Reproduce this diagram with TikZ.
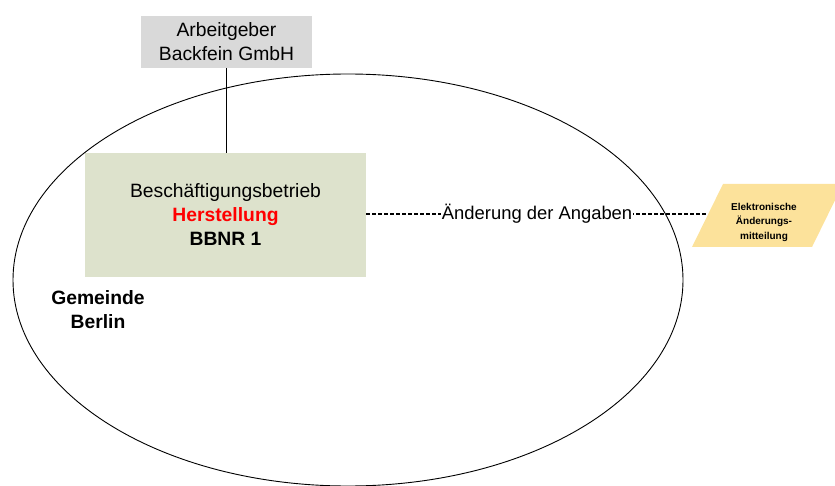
\documentclass[tikz,border=0pt]{standalone}
\usepackage{fontspec}
\setmainfont{Liberation Sans}
\usepackage{xcolor}
\usepackage{tikz}
\usetikzlibrary{positioning}

\definecolor{agGray}{RGB}{217,217,217}
\definecolor{btGreen}{RGB}{221,226,204}
\definecolor{msgYellow}{RGB}{252,226,155}
\definecolor{hsRed}{RGB}{255,0,0}

\begin{document}
\begin{tikzpicture}[x=1pt,y=1pt,
    big/.style={font=\fontsize{19.3}{24}\selectfont},
    box/.style={big,align=center,inner sep=0pt}]
  \useasboundingbox (0,0) rectangle (835,-486);

  % Gemeinde (Ellipse)
  \draw[line width=0.9pt] (348,-280) ellipse [x radius=335, y radius=206];
  \node[box,font=\fontsize{19.3}{24}\selectfont\bfseries] (gemeinde) at (98,-310) {Gemeinde\\Berlin};

  % Arbeitgeber
  \node[box,fill=agGray,minimum width=171,minimum height=52] (arbeitgeber) at (226.5,-42) {Arbeitgeber\\Backfein GmbH};

  % Beschaeftigungsbetrieb
  \node[box,fill=btGreen,minimum width=281,minimum height=124] (betrieb) at (225.5,-215)
    {Besch\"aftigungsbetrieb\\{\bfseries\color{hsRed}Herstellung}\\{\bfseries BBNR 1}};
  \draw[line width=0.8pt] (arbeitgeber.south -| 226,0) -- (betrieb.north -| 226,0);

  % Elektronische Aenderungsmitteilung
  \fill[msgYellow] (723,-184) -- (843,-184) -- (812,-247) -- (692,-247) -- cycle;
  \node[align=center,inner sep=0pt,font=\fontsize{10}{14.5}\selectfont\bfseries] (mitteilung) at (764,-222)
    {Elektronische\\\"Anderungs-\\mitteilung};
  \coordinate (mitteilungIn) at (708,-214);

  % Aenderung der Angaben
  \draw[line width=1.5pt,dash pattern=on 3.5pt off 2.5pt] (betrieb.east |- 0,-214) -- (mitteilungIn)
    node[pos=0.5,font=\fontsize{18.4}{24}\selectfont,fill=white,inner sep=1pt] (angaben) {\"Anderung der Angaben};
\end{tikzpicture}
\end{document}
